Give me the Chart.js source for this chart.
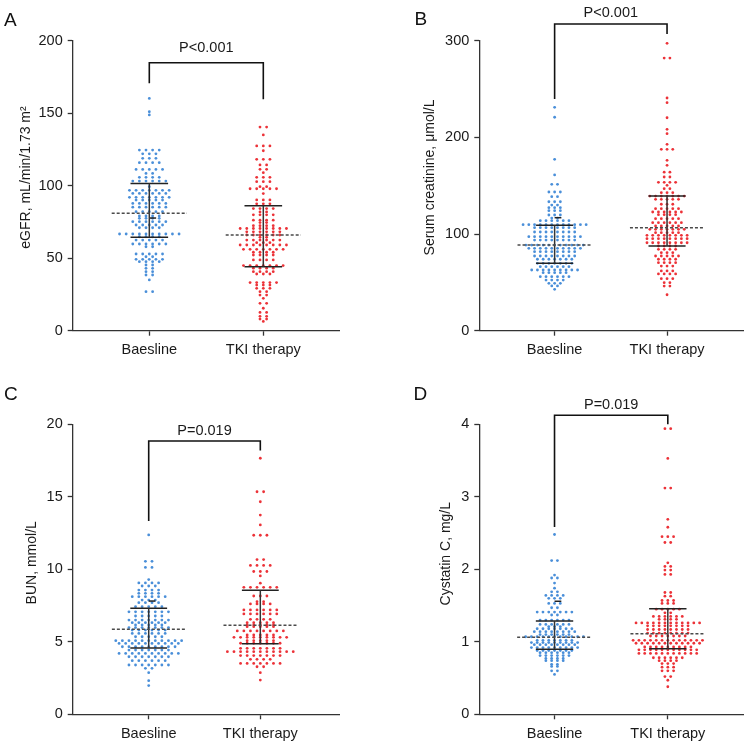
<!DOCTYPE html>
<html>
<head>
<meta charset="utf-8">
<script src="https://cdn.jsdelivr.net/npm/chart.js@4.4.1/dist/chart.umd.min.js"></script>
<style>
html,body{margin:0;padding:0;background:#fff;}
#wrap{position:relative;width:745px;height:745px;overflow:hidden;background:#fff;}
canvas{position:absolute;}
.lbl{position:absolute;font-family:"Liberation Sans",Arial,Helvetica,sans-serif;font-size:19px;line-height:1;color:#111;}
</style>
</head>
<body>
<div id="wrap">
  <canvas id="cA" width="372" height="372" style="left:0px;top:0px;width:372px;height:372px"></canvas>
  <canvas id="cB" width="373" height="372" style="left:372px;top:0px;width:373px;height:372px"></canvas>
  <canvas id="cC" width="372" height="373" style="left:0px;top:372px;width:372px;height:373px"></canvas>
  <canvas id="cD" width="373" height="373" style="left:372px;top:372px;width:373px;height:373px"></canvas>
  <div class="lbl" style="left:4px;top:10px">A</div>
  <div class="lbl" style="left:414.5px;top:9px">B</div>
  <div class="lbl" style="left:4px;top:384px">C</div>
  <div class="lbl" style="left:413.5px;top:384px">D</div>
</div>
<script>
// ---------------- DATA ----------------
const categories = ['Baesline', 'TKI therapy'];

// eGFR, mL/min/1.73 m2
const egfrBase = [160.2,151,148.8,
124.6,124.6,124.6,124.6,122,122,122,118.9,118.9,118.9,115.9,115.9,115.9,115.9,
111.2,111.2,111.2,111.2,111.2,108.5,108.5,105.8,105.8,105.8,105.8,
103.2,103.2,103.2,103.2,103.2,103.2,99.3,96.8,96.8,96.8,96.8,96.8,96.8,96.8,
94.7,94.7,94.7,94.7,94.7,94.7,92,92,92,92,92,92,92,90.1,90.1,90.1,90.1,90.1,
87.8,87.8,87.8,87.8,87.8,87.8,85.2,85.2,85.2,85.2,85.2,85.2,82.1,82.1,82.1,82.1,82.1,
79.1,79.1,79.1,79.1,77.5,77.5,77.5,77.5,75.2,75.2,75.2,75.2,75.2,75.2,
72.9,72.9,72.9,72.9,72.9,71,71,71,71,
66.7,66.7,66.7,66.7,66.7,66.7,66.7,66.7,66.7,66.7,64.8,64.8,64.8,64.8,
62.5,62.5,62.5,62.5,62.5,59.8,59.8,59.8,59.8,59.8,59.8,57.9,57.9,
52.9,52.9,52.9,52.9,52.9,51,51,49.2,49.2,49.2,49.2,49.2,47.6,47.6,47.6,47.6,
45.3,45.3,43,43,40.7,40.7,38.4,38.4,35,26.9,26.9];
const egfrTki = [140.4,140.4,135,127.4,127.4,127.4,124.1,118.2,118.2,118.2,114.3,114.3,111.3,111.3,109,
105.8,105.8,105.8,102.8,102.8,102.8,99.3,99.3,97.9,97.9,97.9,97.9,97.9,94.6,90.2,90.2,90.2,87.5,87.5,87.5,
84.2,84.2,84.2,84.2,81.9,81.9,79.9,79.9,79.9,79.9,76.2,76.2,76.2,76.2,74.6,74.6,72.4,72.4,72.4,72.4,
70.5,70.5,70.5,70.5,70.5,70.5,70.5,70.5,68.2,68.2,68.2,68.2,68.2,68.2,66,66,66,66,66,66,64.4,64.4,
62.5,62.5,62.5,62.5,62.5,62.5,60.7,60.7,60.7,59.1,59.1,59.1,59.1,59.1,59.1,59.1,59.1,
56.1,56.1,56.1,56.1,56.1,56.1,56.1,54.1,54.1,54.1,54.1,52.2,52.2,52.2,52.2,48.8,48.8,48.8,48.8,
44.9,44.9,44.9,44.9,44.9,44.9,44.9,43.1,43.1,43.1,43.1,40.7,40.7,40.7,40.7,39.1,39.1,39.1,
33.2,33.2,33.2,33.2,33.2,31.5,31.5,31.5,29.2,29.2,29.2,26.9,26.9,24.6,24.6,22.3,18.9,18.9,15.5,
12.6,12.6,9.9,9.9,8,8,6.4];
const egfrMedian = [81, 66];
const egfrQ1 = [64.4, 44.1];
const egfrQ3 = [101.6, 86.2];
const egfrMark = [77.7];
const egfrBracket = [170.6, 184.8, 159.6];
const egfrTicks = [0, 50, 100, 150, 200];

// Serum creatinine, umol/L
const scrBase = [231.1,220.8,177.3,161.1,151.4,151.4,143.5,143.5,143.5,138.6,138.6,133.4,133.4,133.4,130,130,
127.3,127.3,127.3,124.2,124.2,124.2,119.7,119.7,119.7,116.5,116.5,113.8,113.8,113.8,113.8,113.8,113.8,
109.7,109.7,109.7,109.7,109.7,109.7,109.7,109.7,109.7,109.7,109.7,109.7,
106.6,106.6,106.6,106.6,106.6,106.6,106.6,106.6,102.1,102.1,102.1,102.1,102.1,102.1,102.1,102.1,
97.3,97.3,97.3,97.3,97.3,97.3,97.3,97.3,97.3,97.3,93.8,93.8,93.8,93.8,93.8,93.8,93.8,93.8,
88.6,88.6,88.6,88.6,88.6,88.6,88.6,88.6,88.6,88.6,88.6,85.2,85.2,85.2,85.2,85.2,85.2,85.2,85.2,85.2,85.2,
81.8,81.8,81.8,81.8,81.8,81.8,81.8,81.8,77.3,77.3,77.3,77.3,77.3,77.3,77.3,77.3,
73.9,73.9,73.9,73.9,73.9,73.9,73.9,69.7,69.7,69.7,69.7,69.7,69.7,69.7,66.2,66.2,66.2,66.2,66.2,66.2,
62.8,62.8,62.8,62.8,62.8,62.8,62.8,62.8,62.8,60,60,60,60,60,55.9,55.9,55.9,55.9,55.9,55.9,
52.4,52.4,52.4,52.4,49,49,49,46.3,46.3,42.8];
const scrTki = [297.3,282,282,240.7,235.9,220.3,208.3,203.8,192.8,187.6,187.6,187.6,176.3,171.1,164,164,159,159,
153.5,153.5,153.5,153.5,150.4,146.9,146.9,142.8,142.8,142.8,139.3,139.3,139.3,139.3,139.3,139.3,139.3,
135.9,135.9,135.9,135.9,135.9,130.8,130.8,130.8,126.2,126.2,126.2,126.2,126.2,122.8,122.8,122.8,122.8,122.8,122.8,
120,120,120,120,115.9,115.9,115.9,115.9,115.9,111.7,111.7,111.7,111.7,111.7,111.7,108.3,108.3,108.3,108.3,108.3,
104.9,104.9,104.9,104.9,104.9,104.9,104.9,101.4,101.4,101.4,101.4,101.4,98.7,98.7,98.7,98.7,98.7,98.7,98.7,98.7,
95.2,95.2,95.2,95.2,95.2,95.2,95.2,95.2,91,91,91,91,91,91,91,91,87.6,87.6,87.6,87.6,84.2,84.2,84.2,84.2,
80.7,80.7,80.7,77.3,77.3,77.3,77.3,77.3,73.9,73.9,73.9,73.9,70.4,70.4,70.4,70.4,66.9,66.9,66.9,
61.8,61.8,61.8,58.7,58.7,58.7,58.7,53.8,53.8,53.8,49.7,49.7,46.2,46.2,37.2];
const scrMedian = [88.7, 106.6];
const scrQ1 = [69.7, 87.6];
const scrQ3 = [109.0, 139.3];
const scrMark = [116.9];
const scrBracket = [239.7, 317.3, 307];
const scrTicks = [0, 100, 200, 300];

// BUN, mmol/L
const bunBase = [12.37,10.55,10.55,10.13,10.13,9.29,9.06,9.06,9.06,9.06,8.85,8.85,8.85,8.57,8.57,8.57,8.57,
8.34,8.34,8.34,8.34,8.11,8.11,8.11,8.11,8.11,8.11,7.88,7.88,7.88,7.7,7.7,7.7,7.7,7.42,7.42,7.42,7.42,7.42,
7.07,7.07,7.07,7.07,7.07,7.07,7.07,6.78,6.78,6.78,6.78,6.78,6.5,6.5,6.5,6.5,6.5,6.5,6.5,
6.32,6.32,6.32,6.32,6.32,6.32,6.16,6.16,6.16,6.16,6.16,5.98,5.98,5.98,5.98,5.98,5.98,5.98,
5.81,5.81,5.81,5.81,5.81,5.81,5.58,5.58,5.58,5.58,5.58,5.58,5.35,5.35,5.35,5.35,5.35,
5.08,5.08,5.08,5.08,5.08,5.08,5.08,5.08,5.08,5.08,5.08,4.89,4.89,4.89,4.89,4.89,4.89,4.89,4.89,4.89,4.89,
4.66,4.66,4.66,4.66,4.66,4.66,4.66,4.66,4.66,4.43,4.43,4.43,4.43,4.43,4.43,4.43,
4.2,4.2,4.2,4.2,4.2,4.2,4.2,4.2,4.2,4.2,3.97,3.97,3.97,3.97,3.97,3.97,3.97,3.7,3.7,3.7,3.7,3.7,3.7,
3.4,3.4,3.4,3.4,3.4,3.4,3.4,3.17,3.17,2.87,2.32,1.98];
const bunTki = [17.66,15.35,15.35,14.66,13.74,13.06,12.35,12.35,12.35,10.67,10.67,10.27,10.27,10.27,10.27,
9.85,9.85,9.85,9.54,9.04,8.76,8.76,8.76,8.76,8.76,8.76,8.16,8.16,8.16,7.77,7.77,7.61,7.61,7.61,7.61,
7.2,7.2,7.2,7.2,7.2,7.2,6.92,6.92,6.92,6.92,6.92,6.92,6.55,6.55,6.55,6.55,6.32,6.32,6.32,6.32,6.32,
6.16,6.16,6.16,6.16,6.16,6.04,6.04,6.04,6.04,6.04,5.75,5.75,5.75,5.75,5.75,5.75,5.75,5.75,
5.47,5.47,5.47,5.47,5.47,5.31,5.31,5.31,5.31,5.31,5.31,5.31,5.31,5.31,5.08,5.08,5.08,5.08,5.08,
4.9,4.9,4.9,4.9,4.9,4.9,4.9,4.55,4.55,4.55,4.55,4.55,4.55,4.55,
4.32,4.32,4.32,4.32,4.32,4.32,4.32,4.32,4.32,4.32,4.32,4.05,4.05,4.05,4.05,4.05,4.05,4.05,
3.79,3.79,3.79,3.79,3.51,3.51,3.51,3.51,3.51,3.51,3.51,3.28,3.28,2.87,2.36];
const bunMedian = [5.86, 6.14];
const bunQ1 = [4.57, 4.87];
const bunQ3 = [7.31, 8.55];
const bunMark = [7.81];
const bunBracket = [13.33, 18.85, 18.2];
const bunTicks = [0, 5, 10, 15, 20];

// Cystatin C, mg/L
const cysBase = [2.48,2.12,2.12,1.92,1.88,1.88,1.81,1.74,1.69,1.69,1.64,1.64,1.64,1.64,1.6,1.6,1.6,
1.53,1.53,1.53,1.47,1.47,1.41,1.41,1.41,1.41,1.41,1.41,1.41,1.37,1.37,1.3,1.3,1.3,1.3,1.3,1.3,
1.24,1.24,1.24,1.24,1.24,1.24,1.21,1.21,1.21,1.18,1.18,1.18,1.18,1.18,1.18,1.18,
1.14,1.14,1.14,1.14,1.14,1.14,1.14,1.14,1.1,1.1,1.1,1.1,1.1,1.1,
1.07,1.07,1.07,1.07,1.07,1.07,1.07,1.07,1.07,1.07,1.07,1.02,1.02,1.02,1.02,1.02,1.02,1.02,
0.99,0.99,0.99,0.99,0.99,0.99,0.99,0.99,0.99,0.96,0.96,0.96,0.96,0.96,0.96,0.96,0.96,
0.92,0.92,0.92,0.92,0.92,0.92,0.92,0.92,0.92,0.88,0.88,0.88,0.88,0.88,0.88,0.88,
0.85,0.85,0.85,0.85,0.85,0.85,0.81,0.81,0.81,0.81,0.81,0.81,0.77,0.77,0.77,0.77,0.74,0.74,0.74,0.74,
0.69,0.69,0.66,0.66,0.6,0.6,0.55];
const cysTki = [3.94,3.94,3.53,3.12,3.12,2.69,2.58,2.45,2.45,2.45,2.37,2.37,2.09,2.04,2.04,1.99,1.99,1.93,1.93,
1.68,1.68,1.63,1.63,1.57,1.57,1.57,1.53,1.53,1.53,1.45,1.45,1.45,1.45,1.45,1.4,1.4,
1.35,1.35,1.35,1.35,1.35,1.35,1.31,1.31,1.31,1.31,
1.26,1.26,1.26,1.26,1.26,1.26,1.26,1.26,1.26,1.26,1.26,1.26,1.22,1.22,1.22,1.22,1.22,1.22,1.22,1.22,
1.17,1.17,1.17,1.17,1.17,1.17,1.17,1.17,1.12,1.12,1.12,1.12,1.12,1.12,1.12,1.12,
1.08,1.08,1.08,1.08,1.08,1.08,1.08,1.02,1.02,1.02,1.02,1.02,1.02,1.02,1.02,1.02,1.02,1.02,1.02,1.02,
0.98,0.98,0.98,0.98,0.98,0.98,0.98,0.98,0.98,0.98,0.98,0.98,0.93,0.93,0.93,0.93,0.93,0.93,0.93,0.93,0.93,
0.89,0.89,0.89,0.89,0.89,0.89,0.89,0.89,0.89,0.89,0.89,0.84,0.84,0.84,0.84,0.84,0.84,0.84,0.84,0.84,0.84,0.84,
0.78,0.78,0.78,0.78,0.78,0.78,0.74,0.74,0.74,0.74,0.7,0.7,0.7,0.65,0.65,0.65,0.6,0.6,0.6,0.52,0.52,0.47,0.38];
const cysMedian = [1.062, 1.112];
const cysQ1 = [0.897, 0.905];
const cysQ3 = [1.287, 1.457];
const cysMark = [1.559];
const cysBracket = [2.583, 4.124, 4.0];
const cysTicks = [0, 1, 2, 3, 4];

// ---------------- RENDERING ----------------
const FONT = '"Liberation Sans", Arial, Helvetica, sans-serif';
Chart.defaults.font.family = FONT;
const BLUE = '#4a8fd9';
const RED = '#ec3238';
const AXIS = '#333333';

// beeswarm-style rows: equal values share a row and are spread horizontally
function swarm(values, center, gap) {
  const rows = new Map();
  values.forEach(v => rows.set(v, (rows.get(v) || 0) + 1));
  const pts = [];
  rows.forEach((n, v) => {
    for (let i = 0; i < n; i++) pts.push({x: center + (i - (n - 1) / 2) * gap, y: v});
  });
  return pts;
}
function seg(points, color, width, dash) {
  return {data: points, showLine: true, pointRadius: 0, pointHoverRadius: 0,
    borderColor: color, backgroundColor: color, borderWidth: width,
    borderDash: dash || [], fill: false, tension: 0, clip: false, order: 0};
}

const panels = [
  {id: 'cA', w: 372, h: 372, L: 72.7, R: 339, T: 40.7, B: 330.7, xmin: 0.328, xmax: 2.664, gap: 0.058,
   base: egfrBase, tki: egfrTki, med: egfrMedian, q1: egfrQ1, q3: egfrQ3, mark: egfrMark, br: egfrBracket,
   ticks: egfrTicks, p: 'P<0.001', pOff: 14.5, title: 'eGFR, mL/min/1.73 m²', tx: 26, ty: 177.5},
  {id: 'cB', w: 373, h: 372, L: 107.3, R: 372.5, T: 40.7, B: 330.7, xmin: 0.330, xmax: 2.681, gap: 0.051,
   base: scrBase, tki: scrTki, med: scrMedian, q1: scrQ1, q3: scrQ3, mark: scrMark, br: scrBracket,
   ticks: scrTicks, p: 'P<0.001', pOff: 10.7, title: 'Serum creatinine, μmol/L', tx: 58.5, ty: 177.5},
  {id: 'cC', w: 372, h: 373, L: 72.7, R: 339, T: 52.3, B: 342.3, xmin: 0.319, xmax: 2.705, gap: 0.059,
   base: bunBase, tki: bunTki, med: bunMedian, q1: bunQ1, q3: bunQ3, mark: bunMark, br: bunBracket,
   ticks: bunTicks, p: 'P=0.019', pOff: 9.5, title: 'BUN, mmol/L', tx: 32.5, ty: 190.8},
  {id: 'cD', w: 373, h: 373, L: 107.3, R: 372.5, T: 52.3, B: 342.3, xmin: 0.336, xmax: 2.669, gap: 0.051,
   base: cysBase, tki: cysTki, med: cysMedian, q1: cysQ1, q3: cysQ3, mark: cysMark, br: cysBracket,
   ticks: cysTicks, p: 'P=0.019', pOff: 10.6, title: 'Cystatin C, mg/L', tx: 74, ty: 181.7}
];

const overlayText = {
  id: 'overlayText',
  afterDraw(chart, args, opts) {
    const ctx = chart.ctx;
    const xs = chart.scales.x, ys = chart.scales.y;
    ctx.save();
    ctx.fillStyle = '#1a1a1a';
    ctx.font = '14.5px ' + FONT;
    ctx.textAlign = 'center';
    ctx.textBaseline = 'middle';
    const px = (xs.getPixelForValue(1) + xs.getPixelForValue(2)) / 2;
    const py = ys.getPixelForValue(opts.bracketTop) - opts.pOff;
    ctx.fillText(opts.p, px, py);
    ctx.translate(opts.tx, opts.ty);
    ctx.rotate(-Math.PI / 2);
    ctx.font = '14px ' + FONT;
    ctx.fillText(opts.title, 0, 0);
    ctx.restore();
  }
};

panels.forEach(p => {
  const ds = [];
  [0, 1].forEach(g => {
    const c = g + 1;
    ds.push(seg([{x: c - 0.33, y: p.med[g]}, {x: c + 0.33, y: p.med[g]}], '#4a4a4a', 1.5, [3, 2]));
    ds.push(seg([{x: c, y: p.q1[g]}, {x: c, y: p.q3[g]}], '#333333', 1.5));
    ds.push(seg([{x: c - 0.165, y: p.q3[g]}, {x: c + 0.165, y: p.q3[g]}], '#222222', 1.5));
    ds.push(seg([{x: c - 0.165, y: p.q1[g]}, {x: c + 0.165, y: p.q1[g]}], '#222222', 1.5));
  });
  ds.push(seg([{x: 1, y: p.mark[0]}, {x: 1.06, y: p.mark[0]}], '#222222', 1.5));
  ds.push(seg([{x: 1, y: p.br[0]}, {x: 1, y: p.br[1]}, {x: 2, y: p.br[1]}, {x: 2, y: p.br[2]}], '#111111', 1.6));
  ds.push({label: categories[0], data: swarm(p.base, 1, p.gap), backgroundColor: BLUE, borderColor: BLUE,
    borderWidth: 0, pointRadius: 1.4, pointHoverRadius: 1.4, order: 5});
  ds.push({label: categories[1], data: swarm(p.tki, 2, p.gap), backgroundColor: RED, borderColor: RED,
    borderWidth: 0, pointRadius: 1.4, pointHoverRadius: 1.4, order: 5});

  new Chart(document.getElementById(p.id), {
    type: 'scatter',
    data: {datasets: ds},
    options: {
      responsive: false,
      animation: false,
      events: [],
      layout: {padding: {left: 0, top: p.T, right: p.w - p.R, bottom: 0}},
      plugins: {
        legend: {display: false},
        tooltip: {enabled: false},
        overlayText: {p: p.p, pOff: p.pOff, bracketTop: p.br[1], title: p.title, tx: p.tx, ty: p.ty}
      },
      scales: {
        x: {
          type: 'linear', min: p.xmin, max: p.xmax,
          afterBuildTicks: s => { s.ticks = [{value: 1}, {value: 2}]; },
          afterFit: s => { s.height = p.h - p.B; },
          ticks: {callback: v => categories[v - 1] || '', font: {size: 14.5, family: FONT},
            color: '#1a1a1a', padding: 6, autoSkip: false, maxRotation: 0},
          grid: {drawOnChartArea: false, drawTicks: true, tickLength: 5, tickColor: AXIS, tickWidth: 1.3},
          border: {display: true, color: AXIS, width: 1.3}
        },
        y: {
          type: 'linear', min: 0, max: p.ticks[p.ticks.length - 1],
          afterBuildTicks: s => { s.ticks = p.ticks.map(v => ({value: v})); },
          afterFit: s => { s.width = p.L; },
          ticks: {font: {size: 14.5, family: FONT}, color: '#1a1a1a', padding: 5},
          grid: {drawOnChartArea: false, drawTicks: true, tickLength: 5, tickColor: AXIS, tickWidth: 1.3},
          border: {display: true, color: AXIS, width: 1.3}
        }
      }
    },
    plugins: [overlayText]
  });
});
</script>
</body>
</html>
